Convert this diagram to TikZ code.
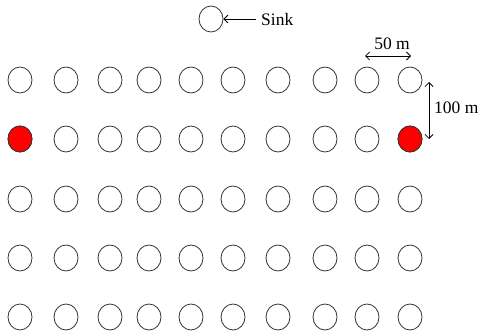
\documentclass[tikz,border=0pt]{standalone}
\usepackage{fontspec}
\setmainfont{Liberation Serif}
\usetikzlibrary{arrows.meta,shapes.geometric}
\begin{document}
\begin{tikzpicture}[x=1pt,y=-1pt,
  sensor/.style={ellipse,draw=black!80,line width=0.8pt,minimum width=24pt,minimum height=26pt,inner sep=0pt,fill=white},
  anchorsensor/.style={sensor,fill=red},
  lbl/.style={font=\fontsize{17.5}{20}\selectfont,inner sep=0pt},
  dim/.style={line width=0.8pt,{Straight Barb[length=4pt,width=8pt]}-{Straight Barb[length=4pt,width=8pt]}},
  pointer/.style={line width=0.8pt,-{Straight Barb[length=4pt,width=8pt]}}]
\useasboundingbox (0,0) rectangle (481,334);
% sensor field: 5 rows x 10 columns
\def\colx{{20,66,110,149,191,233,278,325,367,410}}
\def\rowy{{80,139,199,258,317}}
\foreach \r in {0,...,4}{
  \foreach \c in {0,...,9}{
    \pgfmathsetmacro{\px}{\colx[\c]}
    \pgfmathsetmacro{\py}{\rowy[\r]}
    \node[sensor] (n-\r-\c) at (\px,\py) {};
  }
}
% highlighted sensors
\node[anchorsensor] at (n-1-0) {};
\node[anchorsensor] at (n-1-9) {};
% sink
\node[sensor] (sink) at (211,19) {};
\node[lbl,anchor=west] (sinklbl) at (261,20) {Sink};
\coordinate (sinktail) at (256,19);
\draw[pointer] (sinktail) -- (sink.east);
% horizontal spacing
\coordinate (h1) at (365,56);
\coordinate (h2) at (411,56);
\draw[dim] (h1) -- (h2);
\node[lbl] (hlbl) at (392,44) {50 m};
% vertical spacing
\coordinate (v1) at (429,82);
\coordinate (v2) at (429,139);
\draw[dim] (v1) -- (v2);
\node[lbl,anchor=west] (vlbl) at (434,108) {100 m};
\end{tikzpicture}
\end{document}
